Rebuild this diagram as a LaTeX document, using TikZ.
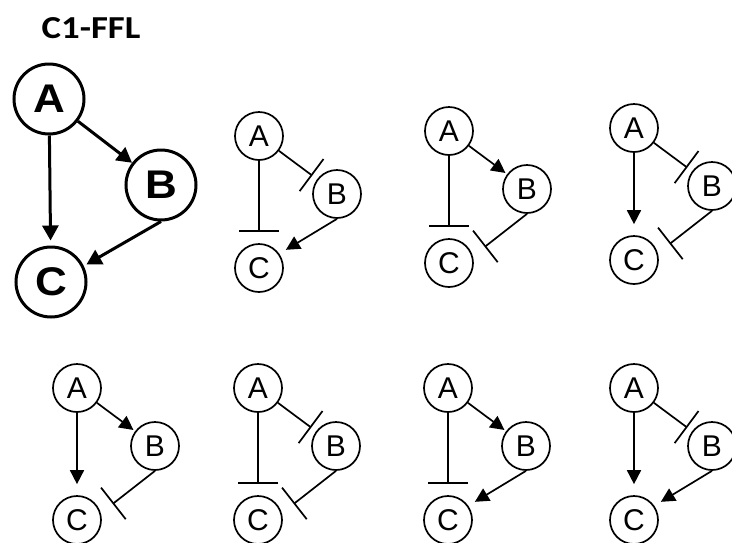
\documentclass[tikz,border=0pt]{standalone}
\usepackage{fontspec}
\usepackage{graphicx}
\setmainfont{Liberation Sans}
\newfontfamily\titlefont{Carlito}
\usetikzlibrary{arrows.meta}
\tikzset{
  sn/.style={circle, draw, line width=1.7pt, minimum size=48pt, inner sep=0pt,
    font=\fontsize{30}{30}\selectfont},
  bn/.style={circle, draw, line width=3pt, minimum size=70pt, inner sep=0pt,
    font=\fontsize{40}{40}\selectfont\bfseries},
  act/.style={line width=1.7pt, -{Triangle[length=14pt,width=14pt]}},
  inh/.style={line width=1.7pt, -{Bar[width=40pt]}},
  bigact/.style={line width=3pt, -{Triangle[length=15pt,width=16pt]}},
  abact/.style={act, shorten >=2pt},
  abinh/.style={inh, shorten >=6pt},
  acact/.style={act, shorten >=11pt},
  acinh/.style={inh, shorten >=11pt},
  bcact/.style={act, shorten >=7.6pt},
  bcinh/.style={inh, shorten >=15pt},
}
% #1 prefix, #2 x, #3 y, #4 A-B style, #5 A-C style, #6 B-C style, #7 C anchor angle
\newcommand{\mymotif}[7]{%
  \node[sn] (#1A) at (#2,#3) {A};
  \node[sn] (#1B) at (#2+78,#3+58) {B};
  \node[sn] (#1C) at (#2,#3+132) {C};
  \draw[#4] (#1A) -- (#1B);
  \draw[#5] (#1A) -- (#1C);
  \draw[#6] (#1B.south) -- (#1C.#7);
}
\begin{document}
\begin{tikzpicture}[x=1pt,y=-1pt]
\useasboundingbox (0,0) rectangle (732,542);
\node (title) at (91,28.5) {\titlefont\fontsize{32}{32}\selectfont\bfseries\scalebox{1.15}[1]{C1-FFL}};
% big C1-FFL motif
\node[bn] (A) at (49,99) {\scalebox{1.1}[1]{A}};
\node[bn] (B) at (161,185) {\scalebox{1.1}[1]{B}};
\node[bn] (C) at (51,282) {\scalebox{1.1}[1]{C}};
\draw[bigact] (A) -- (B);
\draw[bigact, shorten >=5pt] (A) -- (C);
\draw[bigact, shorten >=3pt] (B.south) -- (C.26);
% top row
\mymotif{p}{259}{136}{abinh}{acinh}{bcact}{35}
\mymotif{q}{449}{131}{abact}{acinh}{bcinh}{16}
\mymotif{r}{634}{128}{abinh}{acact}{bcinh}{16}
% bottom row
\mymotif{s}{77}{388}{abact}{acact}{bcinh}{16}
\mymotif{t}{258}{388}{abinh}{acinh}{bcinh}{16}
\mymotif{u}{448}{388}{abact}{acinh}{bcact}{35}
\mymotif{v}{634}{388}{abinh}{acact}{bcact}{35}
\end{tikzpicture}
\end{document}
